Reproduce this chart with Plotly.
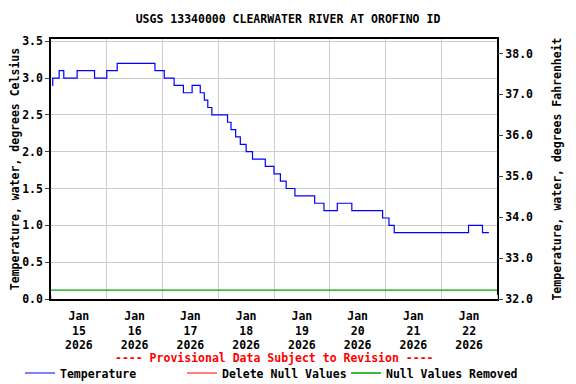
import plotly.graph_objects as go

# Step-change times (local) and temperature values (deg C)
times = [
    "2026-01-15 00:30", "2026-01-15 00:45", "2026-01-15 03:30", "2026-01-15 05:30",
    "2026-01-15 11:15", "2026-01-15 18:45", "2026-01-16 00:00", "2026-01-16 04:30",
    "2026-01-16 20:45", "2026-01-17 00:45", "2026-01-17 05:00", "2026-01-17 09:00",
    "2026-01-17 12:45", "2026-01-17 16:15", "2026-01-17 18:00", "2026-01-17 19:30",
    "2026-01-17 21:15", "2026-01-18 04:00", "2026-01-18 05:30", "2026-01-18 07:30",
    "2026-01-18 09:30", "2026-01-18 12:00", "2026-01-18 14:45", "2026-01-18 20:15",
    "2026-01-19 00:00", "2026-01-19 02:45", "2026-01-19 05:15", "2026-01-19 09:00",
    "2026-01-19 17:30", "2026-01-19 21:30", "2026-01-20 03:15", "2026-01-20 09:30",
    "2026-01-20 22:45", "2026-01-21 01:30", "2026-01-21 03:45", "2026-01-22 11:45",
    "2026-01-22 17:45", "2026-01-22 20:30",
]
temps_c = [
    2.9, 3.0, 3.1, 3.0,
    3.1, 3.0, 3.1, 3.2,
    3.1, 3.0, 2.9, 2.8,
    2.9, 2.8, 2.7, 2.6,
    2.5, 2.4, 2.3, 2.2,
    2.1, 2.0, 1.9, 1.8,
    1.7, 1.6, 1.5, 1.4,
    1.3, 1.2, 1.3, 1.2,
    1.1, 1.0, 0.9, 1.0,
    0.9, 0.9,
]

null_removed_times = ["2026-01-15 00:00", "2026-01-23 00:00"]
null_removed_vals = [0.12, 0.12]

x_range = ["2026-01-15 00:00", "2026-01-23 00:00"]
y_range_c = [0, 3.53]
y_range_f = [32 + 1.8 * y_range_c[0], 32 + 1.8 * y_range_c[1]]

FONT = "DejaVu Sans Mono"
FS = 11.5

# page body has an 8px default margin; size the figure to compensate
OFF = 8
W, H = 576 - OFF, 384 - OFF

fig = go.Figure()
fig.add_trace(go.Scatter(
    x=times, y=temps_c, mode="lines", line=dict(color="#0000ff", width=1.2, shape="hv"),
    name="Temperature", legend="legend"))
fig.add_trace(go.Scatter(
    x=[None], y=[None], mode="lines", line=dict(color="#ff0000", width=1.2),
    name="Delete Null Values", legend="legend2"))
fig.add_trace(go.Scatter(
    x=null_removed_times, y=null_removed_vals, mode="lines",
    line=dict(color="#00a000", width=1.4), name="Null Values Removed", legend="legend3"))
# invisible trace on the Fahrenheit axis
fig.add_trace(go.Scatter(x=[None], y=[None], yaxis="y2", showlegend=False))


def leg(text_x_page):
    return dict(
        orientation="h", xref="container", yref="container",
        x=(text_x_page - 40 - OFF) / W, xanchor="left",
        y=(384 - 373) / H, yanchor="middle", itemwidth=30,
        font=dict(family=FONT, size=FS, weight="bold"),
        bgcolor="rgba(0,0,0,0)",
    )


fig.update_layout(
    width=W, height=H,
    margin=dict(l=51 - OFF, r=79, t=39 - OFF, b=85, autoexpand=False),
    paper_bgcolor="white", plot_bgcolor="white",
    font=dict(family=FONT, size=FS, color="black", weight="bold"),
    title=dict(text="USGS 13340000 CLEARWATER RIVER AT OROFINO ID",
               x=(288 - OFF) / W, xanchor="center", y=1 - (19 - OFF) / H, yanchor="middle",
               font=dict(family=FONT, size=FS, color="black", weight="bold")),
    xaxis=dict(
        range=x_range, type="date", tick0="2026-01-15", dtick=86400000,
        ticklabelmode="period", tickformat="%b<br>%d<br>%Y", automargin=False,
        showgrid=True, gridcolor="#cccccc", gridwidth=1,
        showline=True, linecolor="black", linewidth=1.5, mirror=True,
        ticks="inside", ticklen=4, tickcolor="#cccccc", zeroline=False,
        ticklabelstandoff=5,
        tickfont=dict(family=FONT, size=FS, weight="bold"),
    ),
    yaxis=dict(
        range=y_range_c, dtick=0.5, tick0=0, tickformat=".1f", automargin=False,
        showgrid=True, gridcolor="#cccccc", gridwidth=1,
        showline=True, linecolor="black", linewidth=1.5, mirror=True,
        ticks="outside", ticklen=4, zeroline=False,
        title=dict(text="Temperature, water, degrees Celsius",
                   font=dict(family=FONT, size=FS, weight="bold"), standoff=4),
        tickfont=dict(family=FONT, size=FS, weight="bold"),
    ),
    yaxis2=dict(
        range=y_range_f, dtick=1, tick0=32, tickformat=".1f", overlaying="y", side="right",
        showgrid=False, ticks="outside", ticklen=5, zeroline=False, showline=False,
        automargin=False,
        title=dict(text="Temperature, water, degrees Fahrenheit",
                   font=dict(family=FONT, size=FS, weight="bold"), standoff=20),
        tickfont=dict(family=FONT, size=FS, weight="bold"),
    ),
    legend=leg(60),
    legend2=leg(222),
    legend3=leg(386),
    annotations=[dict(
        text="---- Provisional Data Subject to Revision ----",
        xref="paper", yref="paper", x=0.5, y=(299 - 358) / 260,
        xanchor="center", yanchor="middle", showarrow=False,
        font=dict(family=FONT, size=FS, color="#ff0000", weight="bold"))],
)

fig.write_html("out.html")
